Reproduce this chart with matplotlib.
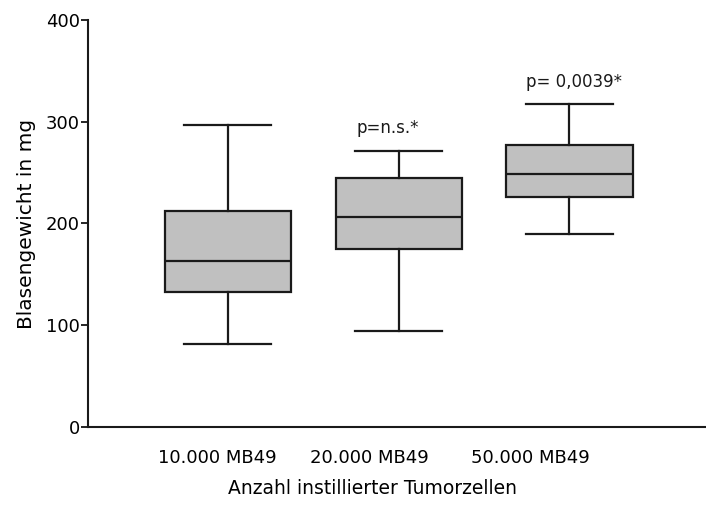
import matplotlib
matplotlib.use("Agg")
import matplotlib.pyplot as plt
import matplotlib.transforms as mtransforms

plt.rcParams['font.family'] = ['DejaVu Sans']

# Data
groups = ["10.000 MB49", "20.000 MB49", "50.000 MB49"]
whisker_low = [82, 94, 190]
q1 = [133, 175, 226]
median = [163, 206, 249]
q3 = [212, 245, 277]
whisker_high = [297, 271, 317]
p_labels = ["", "p=n.s.*", "p= 0,0039*"]

fig = plt.figure(figsize=(7.06, 5.14), dpi=100)
ax = fig.add_axes([0.1246, 0.1693, 0.8754, 0.7918])

stats = []
for i in range(len(groups)):
    stats.append({"whislo": whisker_low[i], "q1": q1[i], "med": median[i],
                  "q3": q3[i], "whishi": whisker_high[i], "fliers": []})

positions = list(range(1, len(groups) + 1))
line_col = "#1a1a1a"
ax.bxp(stats, positions=positions, widths=0.74, capwidths=0.51,
       patch_artist=True, showfliers=False,
       boxprops=dict(facecolor="#c0c0c0", edgecolor=line_col, linewidth=1.6),
       medianprops=dict(color=line_col, linewidth=1.6),
       whiskerprops=dict(color=line_col, linewidth=1.6),
       capprops=dict(color=line_col, linewidth=1.6))

# p-value annotations above the upper whiskers
p_shift = [0, -8, 3]
for i, lab in enumerate(p_labels):
    if lab:
        ax.annotate(lab, (positions[i], whisker_high[i]), xytext=(p_shift[i], 10),
                    textcoords="offset points", ha="center", va="bottom",
                    fontsize=12, color="#1a1a1a")

ax.set_xlim(0.18, 3.80)
ax.set_ylim(0, 400)
ax.set_yticks([0, 100, 200, 300, 400])
ax.set_xticks(positions)
ax.set_xticklabels(groups)
ax.tick_params(axis="x", length=0, pad=16, labelsize=13)
ax.tick_params(axis="y", length=5, width=1.2, pad=1, labelsize=13)

# shift tick labels slightly left like the original
shifts = [-11, -29, -39]
for lab, s in zip(ax.get_xticklabels(), shifts):
    lab.set_transform(lab.get_transform() +
                      mtransforms.ScaledTranslation(s / 100, 0, fig.dpi_scale_trans))

for side in ["top", "right"]:
    ax.spines[side].set_visible(False)
for side in ["left", "bottom"]:
    ax.spines[side].set_linewidth(1.5)
    ax.spines[side].set_color(line_col)

ax.set_ylabel("Blasengewicht in mg", fontsize=14.5, labelpad=7)
fig.text(372 / 706, 1 - 488 / 514, "Anzahl instillierter Tumorzellen",
         ha="center", va="center", fontsize=13.5)

fig.savefig("out.png", dpi=100)
